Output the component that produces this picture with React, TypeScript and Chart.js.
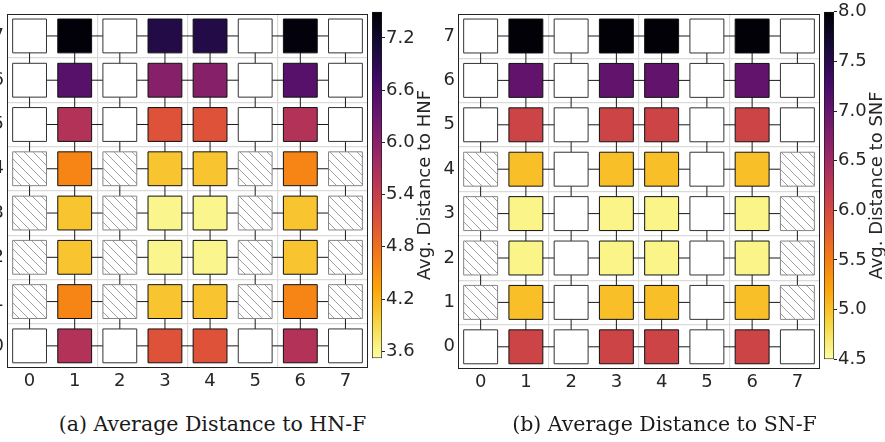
import React, { useEffect, useRef } from 'react';
import { Chart, registerables } from 'chart.js';

Chart.register(...registerables);

// ---------------- data ----------------
const COLS = [0, 1, 2, 3, 4, 5, 6, 7];
const ROWS = [0, 1, 2, 3, 4, 5, 6, 7];
const H = 'hatch'; // hatched (unused) node; null = empty node

// Panel (a): rows listed from y = 0 (bottom) to y = 7 (top)
const hnfRow0 = [null, 5.6, null, 5.1, 5.1, null, 5.6, null];
const hnfRow1 = [H, 4.6, H, 4.06, 4.06, H, 4.6, H];
const hnfRow2 = [H, 4.06, H, 3.62, 3.62, H, 4.06, H];
const hnfRow3 = [H, 4.06, H, 3.62, 3.62, H, 4.06, H];
const hnfRow4 = [H, 4.6, H, 4.06, 4.06, H, 4.6, H];
const hnfRow5 = [null, 5.6, null, 5.1, 5.1, null, 5.6, null];
const hnfRow6 = [null, 6.5, null, 6.03, 6.03, null, 6.5, null];
const hnfRow7 = [null, 7.46, null, 6.98, 6.98, null, 7.44, null];
const hnfRows = [hnfRow0, hnfRow1, hnfRow2, hnfRow3, hnfRow4, hnfRow5, hnfRow6, hnfRow7];
const hnfRange = [3.52, 7.5];
const hnfTicks = [3.6, 4.2, 4.8, 5.4, 6.0, 6.6, 7.2];
const hnfTitle = 'Avg. Distance to HNF';
const hnfCaption = '(a) Average Distance to HN-F';

// Panel (b)
const snfRow0 = [null, 6.07, null, 6.07, 6.07, null, 6.07, null];
const snfRow1 = [H, 5.02, null, 5.02, 5.02, null, 5.02, H];
const snfRow2 = [H, 4.6, null, 4.6, 4.6, null, 4.6, H];
const snfRow3 = [H, 4.6, null, 4.6, 4.6, null, 4.6, H];
const snfRow4 = [H, 5.02, null, 5.02, 5.02, null, 5.02, H];
const snfRow5 = [null, 6.07, null, 6.07, 6.07, null, 6.07, null];
const snfRow6 = [null, 7.02, null, 7.02, 7.02, null, 7.02, null];
const snfRow7 = [null, 7.98, null, 7.98, 7.98, null, 7.98, null];
const snfRows = [snfRow0, snfRow1, snfRow2, snfRow3, snfRow4, snfRow5, snfRow6, snfRow7];
const snfRange = [4.5, 8.0];
const snfTicks = [4.5, 5.0, 5.5, 6.0, 6.5, 7.0, 7.5, 8.0];
const snfTitle = 'Avg. Distance to SNF';
const snfCaption = '(b) Average Distance to SN-F';

// ---------------- style ----------------
const INFERNO = ['#000004', '#160b39', '#420a68', '#6a176e', '#932667', '#bc3754', '#dd513a', '#f37819', '#fca50a', '#f6d746', '#fcffa4'];
const TEXT = '#262626';
const GRID = '#dadada';
const FONT = '"DejaVu Sans"';
const SQUARE = 0.75; // square side in data units
const Y_AXIS_W = 27;
const X_AXIS_H = 30;

function rgbOf(h: string) {
  return [parseInt(h.slice(1, 3), 16), parseInt(h.slice(3, 5), 16), parseInt(h.slice(5, 7), 16)];
}
function inferno(t: number) {
  const tt = Math.max(0, Math.min(1, t));
  const p = tt * 10;
  const i = Math.min(9, Math.floor(p));
  const f = p - i;
  const a = rgbOf(INFERNO[i]);
  const b = rgbOf(INFERNO[i + 1]);
  const c = a.map((v, k) => Math.round(v + (b[k] - v) * f));
  return `rgb(${c[0]},${c[1]},${c[2]})`;
}
function makeHatch(ctx: CanvasRenderingContext2D) {
  const s = 9;
  const c = document.createElement('canvas');
  c.width = s;
  c.height = s;
  const g = c.getContext('2d')!;
  g.fillStyle = '#ffffff';
  g.fillRect(0, 0, s, s);
  g.strokeStyle = '#a0a0a0';
  g.lineWidth = 1;
  g.beginPath();
  g.moveTo(-1, -1); g.lineTo(s + 1, s + 1);
  g.moveTo(-1, s - 1); g.lineTo(1, s + 1);
  g.moveTo(s - 1, -1); g.lineTo(s + 1, 1);
  g.stroke();
  return ctx.createPattern(c, 'repeat');
}

const boxPlugin = {
  id: 'box',
  afterDraw(chart: any) {
    const { ctx, chartArea: a } = chart;
    ctx.save();
    ctx.strokeStyle = '#222';
    ctx.lineWidth = 1;
    const l = Math.round(a.left) + 0.5, t = Math.round(a.top) + 0.5;
    const r = Math.round(a.right) - 0.5, b = Math.round(a.bottom) - 0.5;
    ctx.strokeRect(l, t, r - l, b - t);
    ctx.restore();
  },
};

type GridProps = { rows: any[][]; range: number[]; left: number; top: number; bottom: number; width: number };

function GridPanel({ rows, range, left, top, bottom, width }: GridProps) {
  const ref = useRef<HTMLCanvasElement>(null);
  const cw = width + Y_AXIS_W + 2;
  const ch = bottom + X_AXIS_H;
  useEffect(() => {
    const canvas = ref.current!;
    const ctx = canvas.getContext('2d')!;
    const hatch = makeHatch(ctx);
    const [vmin, vmax] = range;
    const cells: any[] = [];
    const bg: any[] = [];
    const bd: string[] = [];
    ROWS.forEach((r) =>
      COLS.forEach((c) => {
        const v = rows[r][c];
        cells.push({ x: c, y: r });
        if (v === H) {
          bg.push(hatch);
          bd.push('#858585');
        } else if (v === null) {
          bg.push('#ffffff');
          bd.push('#333333');
        } else {
          bg.push(inferno((vmax - v) / (vmax - vmin)));
          bd.push('#111111');
        }
      })
    );
    const lineDs = (data: any[]) => ({
      type: 'scatter',
      data,
      showLine: true,
      borderColor: '#1a1a1a',
      borderWidth: 1,
      pointRadius: 0,
      pointHoverRadius: 0,
      fill: false,
      order: 1,
    });
    const hLines = ROWS.map((r) => lineDs(COLS.map((c) => ({ x: c, y: r }))));
    const vLines = COLS.map((c) => lineDs(ROWS.map((r) => ({ x: c, y: r }))));
    const radius = (c: any) => {
      const s = c.chart.scales.x;
      if (!s) return 0;
      return Math.abs(s.getPixelForValue(SQUARE / 2) - s.getPixelForValue(0)) * Math.SQRT2;
    };
    const tickFont = { family: FONT, size: 18 };
    const chart = new Chart(canvas, {
      type: 'scatter',
      data: {
        datasets: [
          {
            data: cells,
            pointStyle: 'rect',
            pointRadius: radius,
            pointHoverRadius: radius,
            pointBackgroundColor: bg,
            pointBorderColor: bd,
            pointBorderWidth: 1,
            pointHoverBorderWidth: 1,
            order: 0,
          } as any,
          ...(hLines as any),
          ...(vLines as any),
        ],
      },
      options: {
        responsive: false,
        animation: false,
        events: [],
        layout: { padding: { left: 0, right: 2, top, bottom: 0 } },
        plugins: { legend: { display: false }, tooltip: { enabled: false } },
        scales: {
          x: {
            type: 'linear',
            min: -0.5,
            max: 7.5,
            afterBuildTicks: (s: any) => {
              s.ticks = COLS.map((v) => ({ value: v }));
            },
            afterFit: (s: any) => {
              s.height = X_AXIS_H;
            },
            grid: {
              offset: true,
              drawTicks: false,
              lineWidth: 1.2,
              color: (c: any) => (c.type === 'tick' && [2, 4, 6].includes(c.index) ? GRID : 'rgba(0,0,0,0)'),
            },
            border: { display: false },
            ticks: { color: TEXT, font: tickFont, padding: 3, autoSkip: false, maxRotation: 0, callback: (v: any) => String(v) },
          },
          y: {
            type: 'linear',
            min: -0.5,
            max: 7.5,
            afterBuildTicks: (s: any) => {
              s.ticks = ROWS.map((v) => ({ value: v }));
            },
            afterFit: (s: any) => {
              s.width = Y_AXIS_W;
            },
            grid: {
              offset: true,
              drawTicks: false,
              lineWidth: 1.2,
              color: (c: any) => (c.type === 'tick' && c.index >= 1 ? GRID : 'rgba(0,0,0,0)'),
            },
            border: { display: false },
            ticks: { color: TEXT, font: tickFont, padding: 3, autoSkip: false, callback: (v: any) => String(v) },
          },
        },
      } as any,
      plugins: [boxPlugin],
    });
    return () => chart.destroy();
  }, []);
  return (
    <canvas
      ref={ref}
      width={cw}
      height={ch}
      style={{ position: 'absolute', left: left - Y_AXIS_W, top: 0, width: cw, height: ch }}
    />
  );
}

type BarProps = { range: number[]; ticks: number[]; title: string; left: number; top: number; bottom: number };

function ColorBar({ range, ticks, title, left, top, bottom }: BarProps) {
  const ref = useRef<HTMLCanvasElement>(null);
  const barW = 10;
  const axisW = 40;
  const cw = 885 - left;
  const ch = bottom + 2;
  useEffect(() => {
    const canvas = ref.current!;
    const [vmin, vmax] = range;
    const titlePlugin = {
      id: 'cbTitle',
      afterDraw(chart: any) {
        const { ctx, chartArea: a } = chart;
        ctx.save();
        ctx.translate(a.left + 58, (a.top + a.bottom) / 2);
        ctx.rotate(-Math.PI / 2);
        ctx.font = `18px ${FONT}`;
        ctx.fillStyle = TEXT;
        ctx.textAlign = 'center';
        ctx.textBaseline = 'alphabetic';
        ctx.fillText(title, 0, 0);
        ctx.restore();
      },
    };
    const chart = new Chart(canvas, {
      type: 'bar',
      data: {
        labels: [''],
        datasets: [
          {
            data: [[vmin, vmax]] as any,
            barPercentage: 1,
            categoryPercentage: 1,
            borderWidth: 1,
            borderColor: '#1a1a1a',
            borderSkipped: false,
            backgroundColor: (c: any) => {
              const a = c.chart.chartArea;
              if (!a) return '#888';
              const g = c.chart.ctx.createLinearGradient(0, a.top, 0, a.bottom);
              INFERNO.forEach((col, i) => g.addColorStop(i / 10, col));
              return g;
            },
          },
        ],
      },
      options: {
        responsive: false,
        animation: false,
        events: [],
        layout: { padding: { left: 0, right: cw - barW - axisW, top, bottom: 2 } },
        plugins: { legend: { display: false }, tooltip: { enabled: false } },
        scales: {
          x: { display: false },
          y: {
            position: 'right',
            min: vmin,
            max: vmax,
            afterBuildTicks: (s: any) => {
              s.ticks = ticks.map((v) => ({ value: v }));
            },
            afterFit: (s: any) => {
              s.width = axisW;
            },
            grid: { drawOnChartArea: false, drawTicks: true, tickLength: 3, tickColor: '#222', tickWidth: 1 },
            border: { display: false },
            ticks: { color: TEXT, font: { family: FONT, size: 18 }, padding: 1, autoSkip: false, callback: (v: any) => Number(v).toFixed(1) },
          },
        },
      } as any,
      plugins: [titlePlugin],
    });
    return () => chart.destroy();
  }, []);
  return (
    <canvas ref={ref} width={cw} height={ch} style={{ position: 'absolute', left, top: 0, width: cw, height: ch }} />
  );
}

function Caption({ text, center }: { text: string; center: number }) {
  return (
    <div
      style={{
        position: 'absolute',
        left: center - 200,
        width: 400,
        top: 412,
        textAlign: 'center',
        fontFamily: '"DejaVu Serif", serif',
        fontSize: 20.5,
        lineHeight: '24px',
        color: '#1a1a1a',
        whiteSpace: 'nowrap',
      }}
    >
      {text}
    </div>
  );
}

export default function App() {
  return (
    <div style={{ position: 'absolute', left: 0, top: 0, width: 885, height: 442, background: '#fff', overflow: 'hidden' }}>
      <GridPanel rows={hnfRows} range={hnfRange} left={7} top={6} bottom={368} width={361} />
      <ColorBar range={hnfRange} ticks={hnfTicks} title={hnfTitle} left={372} top={6} bottom={368} />
      <GridPanel rows={snfRows} range={snfRange} left={458} top={7} bottom={369} width={362} />
      <ColorBar range={snfRange} ticks={snfTicks} title={snfTitle} left={824} top={7} bottom={369} />
      <Caption text={hnfCaption} center={212.5} />
      <Caption text={snfCaption} center={664.5} />
    </div>
  );
}
